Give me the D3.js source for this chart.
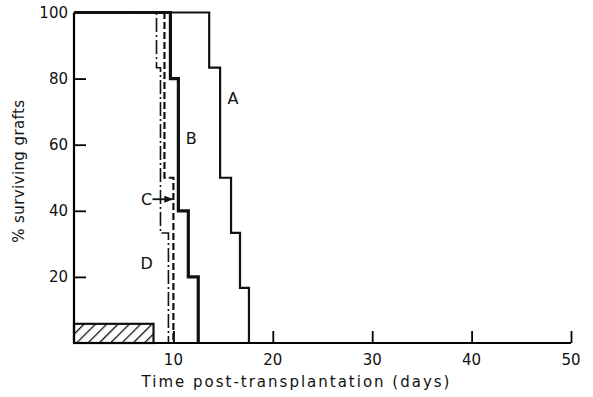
<!DOCTYPE html>
<html>
<head>
<meta charset="utf-8">
<script src="https://cdn.jsdelivr.net/npm/d3@7"></script>
<style>
  body { margin: 0; background: #fff; }
  svg text { font-family: "DejaVu Sans", sans-serif; fill: #111; }
</style>
</head>
<body>
<div id="chart"></div>
<script>
// survival curves (days, % surviving)
const daysA = [0, 13.6, 14.7, 15.8, 16.7, 17.6];
const pctA  = [100, 83.3, 50, 33.3, 16.7, 0];
const daysB = [0, 9.7, 10.5, 11.5, 12.5];
const pctB  = [100, 80, 40, 20, 0];
const daysC = [0, 9.1, 10.0];
const pctC  = [100, 50, 0];
const daysD = [0, 8.3, 8.7, 9.5];
const pctD  = [100, 83.3, 33.3, 0];

// treatment bar (hatched)
const treatDays = [0, 8];
const treatPct = 5.8;

const xTicks = [10, 20, 30, 40, 50];
const yTicks = [20, 40, 60, 80, 100];

const width = 593, height = 397;
const margin = { top: 12.5, right: 22, bottom: 54, left: 74 };

const svg = d3.select('#chart').append('svg')
  .attr('width', width)
  .attr('height', height);

const x = d3.scaleLinear().domain([0, 50]).range([margin.left, width - margin.right]);
const y = d3.scaleLinear().domain([0, 100]).range([height - margin.bottom, margin.top]);

// hatch pattern
const defs = svg.append('defs');
const pat = defs.append('pattern')
  .attr('id', 'hatch')
  .attr('patternUnits', 'userSpaceOnUse')
  .attr('width', 8).attr('height', 8)
  .attr('patternTransform', 'rotate(45)');
pat.append('line')
  .attr('x1', 0).attr('y1', 0).attr('x2', 0).attr('y2', 8)
  .attr('stroke', '#111').attr('stroke-width', 2.6);

svg.append('rect')
  .attr('x', x(treatDays[0]))
  .attr('y', y(treatPct))
  .attr('width', x(treatDays[1]) - x(treatDays[0]))
  .attr('height', y(0) - y(treatPct))
  .attr('fill', 'url(#hatch)')
  .attr('stroke', '#111')
  .attr('stroke-width', 2.2);

// axes
const xAxis = d3.axisTop(x).tickValues(xTicks).tickSize(12).tickFormat('');
svg.append('g')
  .attr('class', 'axis axis--x')
  .attr('transform', `translate(0,${y(0)})`)
  .call(xAxis)
  .call(g => g.select('.domain').attr('d', `M${x(0)},0H${x(50)}`).attr('stroke-width', 2.2))
  .call(g => g.selectAll('.tick line').attr('stroke-width', 1.8));

svg.append('g')
  .selectAll('text')
  .data(xTicks)
  .enter().append('text')
  .attr('x', d => x(d))
  .attr('y', y(0) + 22)
  .attr('text-anchor', 'middle')
  .style('font-size', '15px')
  .text(d => d);

const yAxis = d3.axisRight(y).tickValues(yTicks.filter(d => d < 100)).tickSize(12).tickFormat('');
svg.append('g')
  .attr('class', 'axis axis--y')
  .attr('transform', `translate(${x(0)},0)`)
  .call(yAxis)
  .call(g => g.select('.domain').attr('d', `M0,${y(0)}V${y(100)}`).attr('stroke-width', 2.2))
  .call(g => g.selectAll('.tick line').attr('stroke-width', 1.8));

svg.append('g')
  .selectAll('text')
  .data(yTicks)
  .enter().append('text')
  .attr('x', x(0) - 6)
  .attr('y', d => y(d))
  .attr('dy', '0.36em')
  .attr('text-anchor', 'end')
  .style('font-size', '15px')
  .text(d => d);

// curves
const line = d3.line()
  .x(d => x(d[0]))
  .y(d => y(d[1]))
  .curve(d3.curveStepAfter);

const curves = [
  { days: daysA, pct: pctA, w: 2.2, dash: null },
  { days: daysB, pct: pctB, w: 3.2, dash: null },
  { days: daysC, pct: pctC, w: 2.2, dash: '7,3' },
  { days: daysD, pct: pctD, w: 1.6, dash: '14,3,2,3' }
];

svg.selectAll('.curve')
  .data(curves)
  .enter().append('path')
  .attr('class', 'curve')
  .attr('d', d => line(d.days.map((t, i) => [t, d.pct[i]])))
  .attr('fill', 'none')
  .attr('stroke', '#111')
  .attr('stroke-width', d => d.w)
  .attr('stroke-dasharray', d => d.dash);

// curve labels
const labels = [
  { t: 'A', day: 16.0, pct: 74 },
  { t: 'B', day: 11.8, pct: 62 },
  { t: 'C', day: 7.3, pct: 43.5 },
  { t: 'D', day: 7.3, pct: 24 }
];
svg.selectAll('.lbl')
  .data(labels)
  .enter().append('text')
  .attr('class', 'lbl')
  .attr('x', d => x(d.day))
  .attr('y', d => y(d.pct))
  .attr('dy', '0.36em')
  .attr('text-anchor', 'middle')
  .style('font-size', '16px')
  .text(d => d.t);

// arrow from C
defs.append('marker')
  .attr('id', 'arr')
  .attr('viewBox', '0 0 10 10')
  .attr('refX', 9).attr('refY', 5)
  .attr('markerWidth', 9).attr('markerHeight', 9)
  .attr('markerUnits', 'userSpaceOnUse')
  .attr('orient', 'auto')
  .append('path').attr('d', 'M0,1L10,5L0,9Z').attr('fill', '#111');

svg.append('line')
  .attr('x1', x(7.9)).attr('y1', y(43.5))
  .attr('x2', x(9.9)).attr('y2', y(43.5))
  .attr('stroke', '#111').attr('stroke-width', 1.8)
  .attr('marker-end', 'url(#arr)');

// axis titles
svg.append('text')
  .attr('x', (x(0) + x(50)) / 2 - 26)
  .attr('y', height - 10)
  .attr('text-anchor', 'middle')
  .style('font-size', '15px')
  .style('letter-spacing', '2px')
  .text('Time post-transplantation (days)');

svg.append('text')
  .attr('transform', `translate(24,${y(52)}) rotate(-90)`)
  .attr('text-anchor', 'middle')
  .style('font-size', '15px')
  .style('letter-spacing', '0.4px')
  .text('% surviving grafts');
</script>
</body>
</html>
